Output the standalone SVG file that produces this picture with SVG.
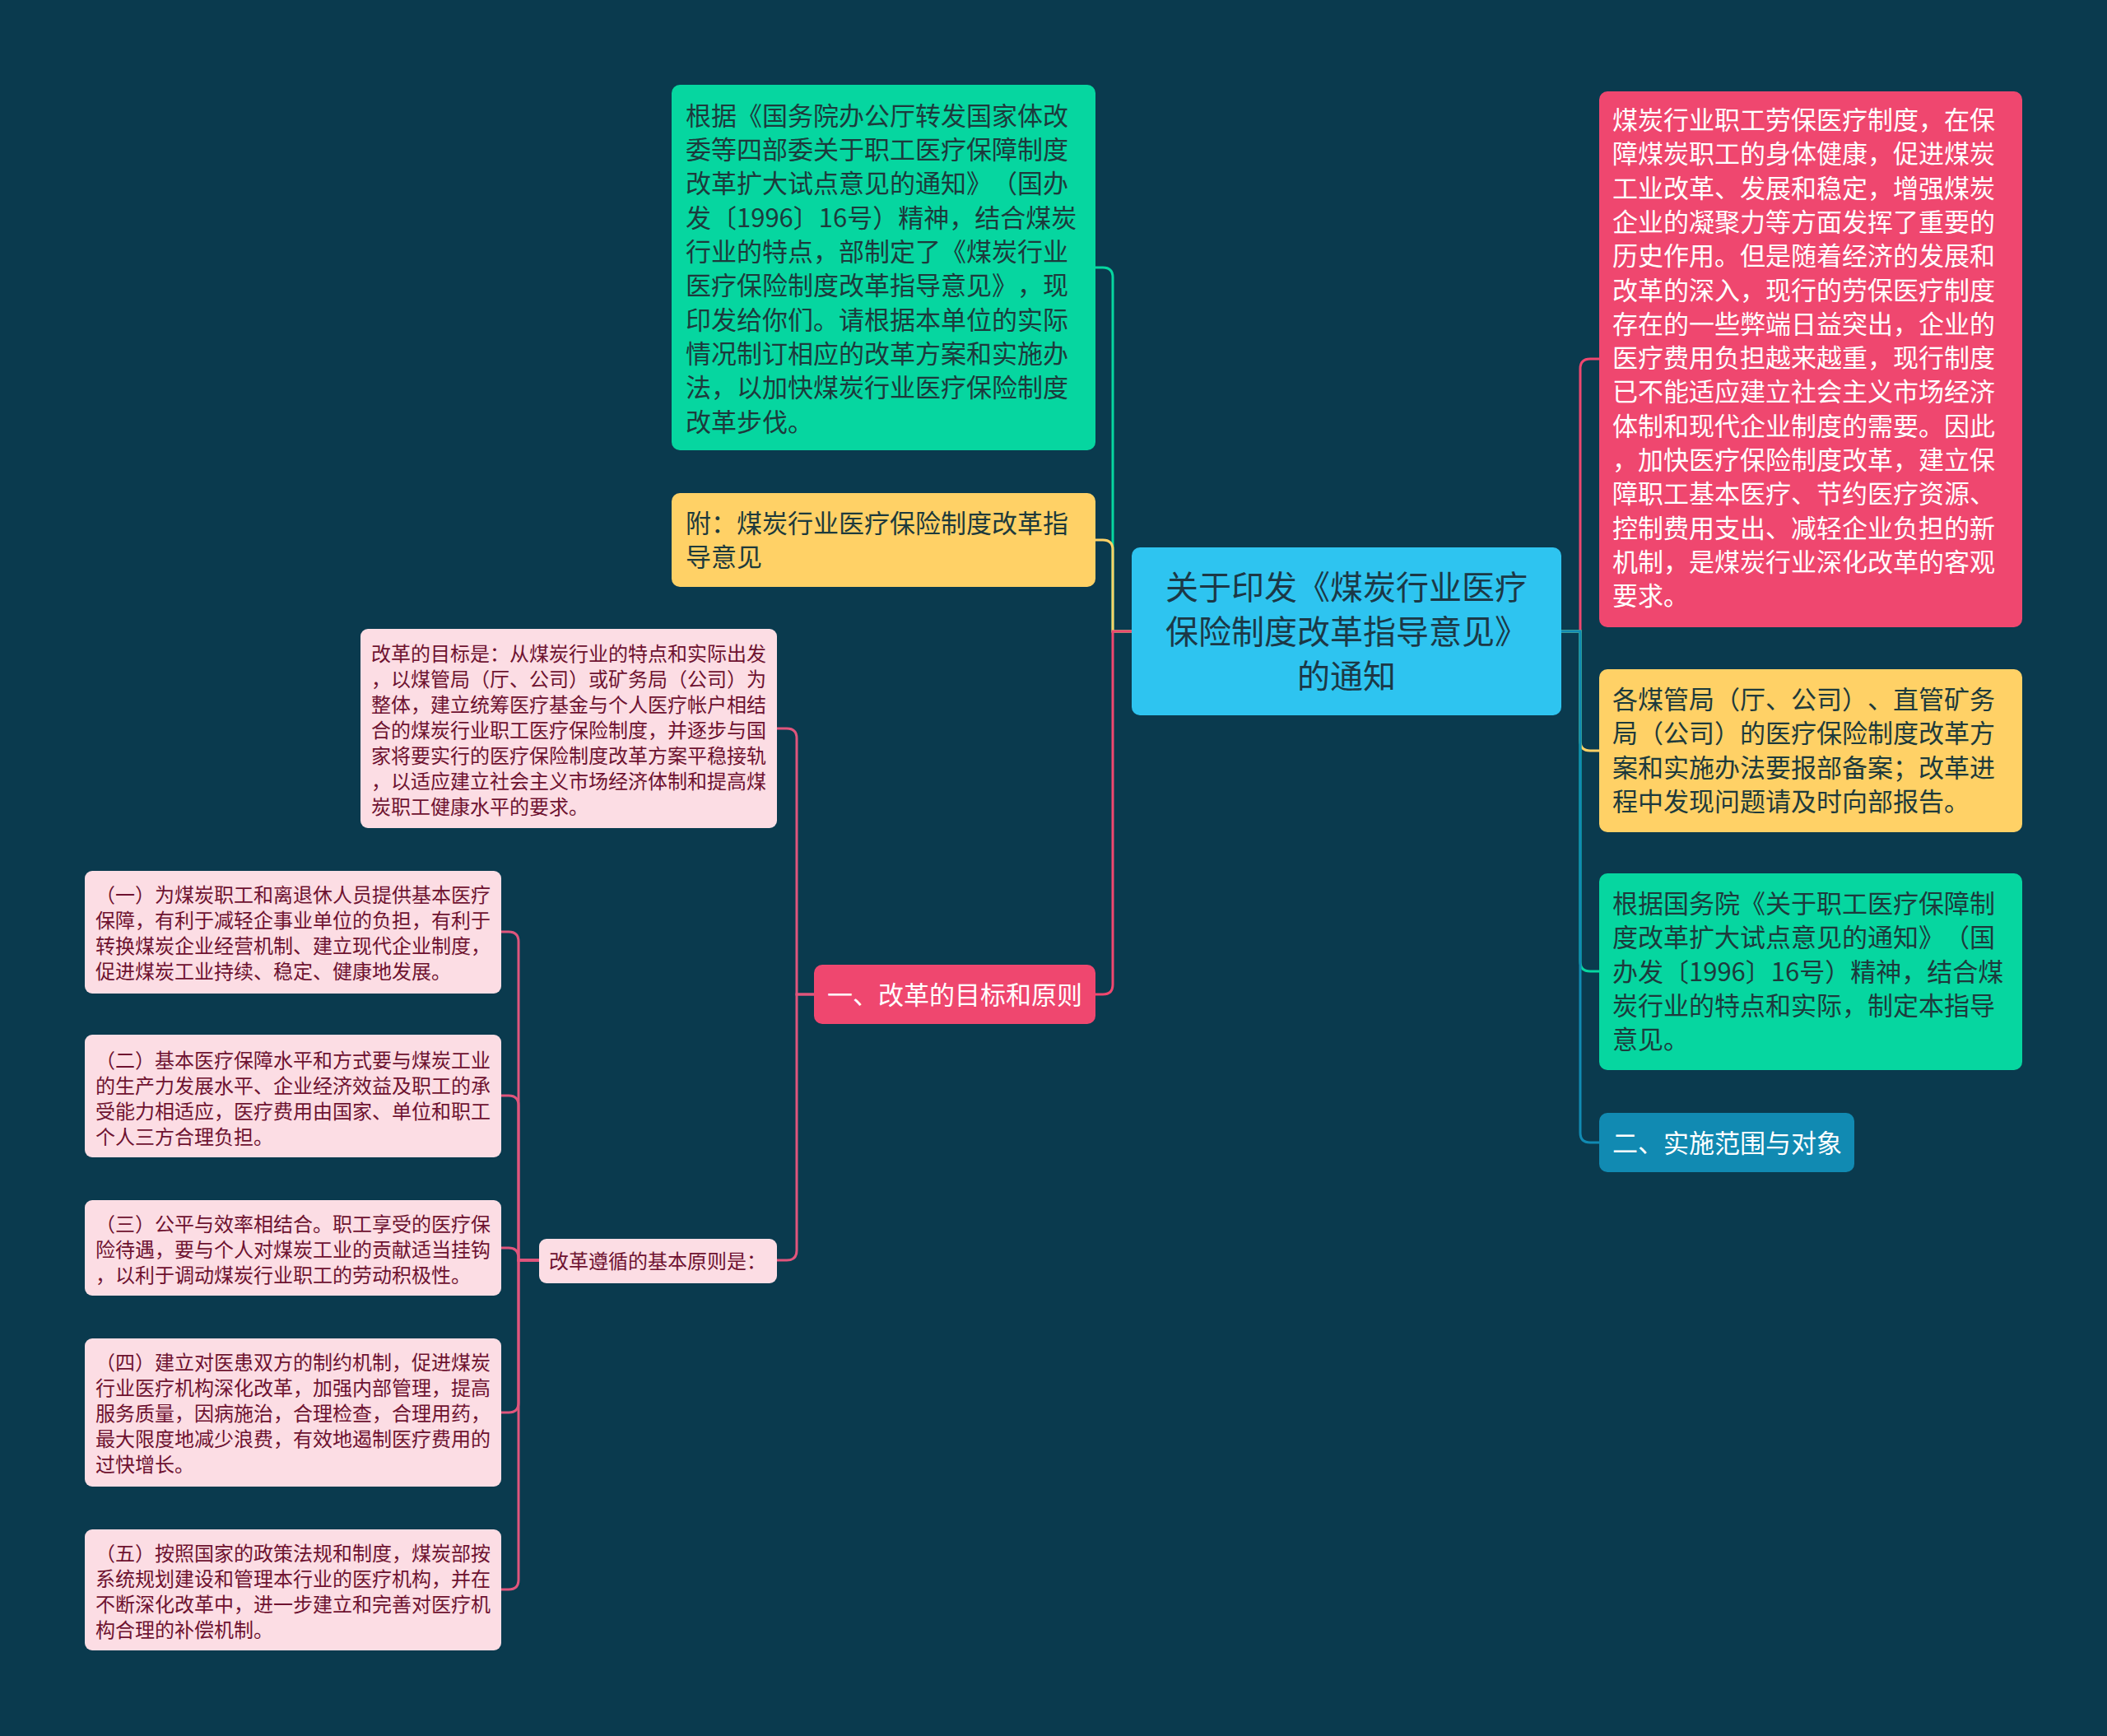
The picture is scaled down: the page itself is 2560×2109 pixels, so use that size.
<svg xmlns="http://www.w3.org/2000/svg" width="2560" height="2109" viewBox="0 0 2560 2109">
<style>
text{font-family:"Noto Sans CJK SC","Noto Sans",sans-serif;text-spacing-trim:space-all;}
.c{fill:none;stroke-width:3;}
.t31{font-size:31px;}
.t24{font-size:24px;}
.dk{fill:#1d3a3c;}
.wh{fill:#ffffff;}
.pk{fill:#6e1230;}
.pinkbox{fill:#fcdde4;}
</style>
<rect x="0" y="0" width="2560" height="2109" fill="#0a3a4e"/>
<g id="connectors">
<path class="c" stroke="#06d6a0" d="M1375,767 H1352 V337 Q1352,325 1340,325 H1331"/>
<path class="c" stroke="#ffd166" d="M1375,767 H1352 V668 Q1352,656 1340,656 H1331"/>
<path class="c" stroke="#ef476f" d="M1375,767 H1352 V1196 Q1352,1208 1340,1208 H1331"/>
<path class="c" stroke="#ef476f" d="M1897,767 H1920 V448 Q1920,436 1932,436 H1943"/>
<path class="c" stroke="#ffd166" d="M1897,767 H1920 V900 Q1920,912 1932,912 H1943"/>
<path class="c" stroke="#06d6a0" d="M1897,767 H1920 V1168 Q1920,1180 1932,1180 H1943"/>
<path class="c" stroke="#118ab2" d="M1897,767 H1920 V1376 Q1920,1388 1932,1388 H1943"/>
<path class="c" stroke="#e0557c" d="M989,1208 H968 V897 Q968,885 956,885 H944"/>
<path class="c" stroke="#e0557c" d="M989,1208 H968 V1519 Q968,1531 956,1531 H944"/>
<path class="c" stroke="#e0557c" d="M655,1531 H630 V1144 Q630,1132 618,1132 H609"/>
<path class="c" stroke="#e0557c" d="M655,1531 H630 V1343 Q630,1331 618,1331 H609"/>
<path class="c" stroke="#e0557c" d="M655,1531 H630 V1528 Q630,1516 618,1516 H609"/>
<path class="c" stroke="#e0557c" d="M655,1531 H630 V1704 Q630,1716 618,1716 H609"/>
<path class="c" stroke="#e0557c" d="M655,1531 H630 V1919 Q630,1931 618,1931 H609"/>
</g>
<g id="center">
<rect x="1375" y="665" width="522" height="204" rx="10" fill="#2ec4f0"/>
<text x="1636" y="728" font-size="40" text-anchor="middle" fill="#1c3846">关于印发《煤炭行业医疗</text>
<text x="1636" y="782" font-size="40" text-anchor="middle" fill="#1c3846">保险制度改革指导意见》</text>
<text x="1636" y="836" font-size="40" text-anchor="middle" fill="#1c3846">的通知</text>
</g>
<g id="node-notice">
<rect x="816" y="103" width="515" height="444" rx="10" fill="#06d6a0"/>
<text class="t31 dk" x="833" y="152">根据《国务院办公厅转发国家体改</text>
<text class="t31 dk" x="833" y="193">委等四部委关于职工医疗保障制度</text>
<text class="t31 dk" x="833" y="234">改革扩大试点意见的通知》（国办</text>
<text class="t31 dk" x="833" y="276">发〔1996〕16号）精神，结合煤炭</text>
<text class="t31 dk" x="833" y="317">行业的特点，部制定了《煤炭行业</text>
<text class="t31 dk" x="833" y="358">医疗保险制度改革指导意见》，现</text>
<text class="t31 dk" x="833" y="400">印发给你们。请根据本单位的实际</text>
<text class="t31 dk" x="833" y="441">情况制订相应的改革方案和实施办</text>
<text class="t31 dk" x="833" y="482">法，以加快煤炭行业医疗保险制度</text>
<text class="t31 dk" x="833" y="524">改革步伐。</text>
</g>
<g id="node-attach">
<rect x="816" y="599" width="515" height="114" rx="10" fill="#ffd166"/>
<text class="t31 dk" x="833" y="647">附：煤炭行业医疗保险制度改革指</text>
<text class="t31 dk" x="833" y="688">导意见</text>
</g>
<g id="node-part1">
<rect x="989" y="1172" width="342" height="72" rx="10" fill="#ef476f"/>
<text class="t31 wh" x="1160" y="1220" text-anchor="middle">一、改革的目标和原则</text>
</g>
<g id="node-goal">
<rect class="pinkbox" x="438" y="764" width="506" height="242" rx="9"/>
<text class="t24 pk" x="451" y="803">改革的目标是：从煤炭行业的特点和实际出发</text>
<text class="t24 pk" x="451" y="834">，以煤管局（厅、公司）或矿务局（公司）为</text>
<text class="t24 pk" x="451" y="865">整体，建立统筹医疗基金与个人医疗帐户相结</text>
<text class="t24 pk" x="451" y="896">合的煤炭行业职工医疗保险制度，并逐步与国</text>
<text class="t24 pk" x="451" y="927">家将要实行的医疗保险制度改革方案平稳接轨</text>
<text class="t24 pk" x="451" y="958">，以适应建立社会主义市场经济体制和提高煤</text>
<text class="t24 pk" x="451" y="989">炭职工健康水平的要求。</text>
</g>
<g id="node-principles">
<rect class="pinkbox" x="655" y="1505" width="289" height="54" rx="9"/>
<text class="t24 pk" x="667" y="1541">改革遵循的基本原则是：</text>
</g>
<g id="node-p1">
<rect class="pinkbox" x="103" y="1058" width="506" height="149" rx="9"/>
<text class="t24 pk" x="116" y="1096">（一）为煤炭职工和离退休人员提供基本医疗</text>
<text class="t24 pk" x="116" y="1127">保障，有利于减轻企事业单位的负担，有利于</text>
<text class="t24 pk" x="116" y="1158">转换煤炭企业经营机制、建立现代企业制度，</text>
<text class="t24 pk" x="116" y="1189">促进煤炭工业持续、稳定、健康地发展。</text>
</g>
<g id="node-p2">
<rect class="pinkbox" x="103" y="1257" width="506" height="149" rx="9"/>
<text class="t24 pk" x="116" y="1297">（二）基本医疗保障水平和方式要与煤炭工业</text>
<text class="t24 pk" x="116" y="1328">的生产力发展水平、企业经济效益及职工的承</text>
<text class="t24 pk" x="116" y="1359">受能力相适应，医疗费用由国家、单位和职工</text>
<text class="t24 pk" x="116" y="1390">个人三方合理负担。</text>
</g>
<g id="node-p3">
<rect class="pinkbox" x="103" y="1458" width="506" height="116" rx="9"/>
<text class="t24 pk" x="116" y="1496">（三）公平与效率相结合。职工享受的医疗保</text>
<text class="t24 pk" x="116" y="1527">险待遇，要与个人对煤炭工业的贡献适当挂钩</text>
<text class="t24 pk" x="116" y="1558">，以利于调动煤炭行业职工的劳动积极性。</text>
</g>
<g id="node-p4">
<rect class="pinkbox" x="103" y="1626" width="506" height="180" rx="9"/>
<text class="t24 pk" x="116" y="1664">（四）建立对医患双方的制约机制，促进煤炭</text>
<text class="t24 pk" x="116" y="1695">行业医疗机构深化改革，加强内部管理，提高</text>
<text class="t24 pk" x="116" y="1726">服务质量，因病施治，合理检查，合理用药，</text>
<text class="t24 pk" x="116" y="1757">最大限度地减少浪费，有效地遏制医疗费用的</text>
<text class="t24 pk" x="116" y="1788">过快增长。</text>
</g>
<g id="node-p5">
<rect class="pinkbox" x="103" y="1858" width="506" height="147" rx="9"/>
<text class="t24 pk" x="116" y="1896">（五）按照国家的政策法规和制度，煤炭部按</text>
<text class="t24 pk" x="116" y="1927">系统规划建设和管理本行业的医疗机构，并在</text>
<text class="t24 pk" x="116" y="1958">不断深化改革中，进一步建立和完善对医疗机</text>
<text class="t24 pk" x="116" y="1989">构合理的补偿机制。</text>
</g>
<g id="node-background">
<rect x="1943" y="111" width="514" height="651" rx="10" fill="#ef476f"/>
<text class="t31 wh" x="1959" y="157">煤炭行业职工劳保医疗制度，在保</text>
<text class="t31 wh" x="1959" y="198">障煤炭职工的身体健康，促进煤炭</text>
<text class="t31 wh" x="1959" y="240">工业改革、发展和稳定，增强煤炭</text>
<text class="t31 wh" x="1959" y="281">企业的凝聚力等方面发挥了重要的</text>
<text class="t31 wh" x="1959" y="322">历史作用。但是随着经济的发展和</text>
<text class="t31 wh" x="1959" y="364">改革的深入，现行的劳保医疗制度</text>
<text class="t31 wh" x="1959" y="405">存在的一些弊端日益突出，企业的</text>
<text class="t31 wh" x="1959" y="446">医疗费用负担越来越重，现行制度</text>
<text class="t31 wh" x="1959" y="487">已不能适应建立社会主义市场经济</text>
<text class="t31 wh" x="1959" y="529">体制和现代企业制度的需要。因此</text>
<text class="t31 wh" x="1959" y="570">，加快医疗保险制度改革，建立保</text>
<text class="t31 wh" x="1959" y="611">障职工基本医疗、节约医疗资源、</text>
<text class="t31 wh" x="1959" y="653">控制费用支出、减轻企业负担的新</text>
<text class="t31 wh" x="1959" y="694">机制，是煤炭行业深化改革的客观</text>
<text class="t31 wh" x="1959" y="735">要求。</text>
</g>
<g id="node-report">
<rect x="1943" y="813" width="514" height="198" rx="10" fill="#ffd166"/>
<text class="t31 dk" x="1959" y="861">各煤管局（厅、公司）、直管矿务</text>
<text class="t31 dk" x="1959" y="902">局（公司）的医疗保险制度改革方</text>
<text class="t31 dk" x="1959" y="944">案和实施办法要报部备案；改革进</text>
<text class="t31 dk" x="1959" y="985">程中发现问题请及时向部报告。</text>
</g>
<g id="node-basis">
<rect x="1943" y="1061" width="514" height="239" rx="10" fill="#06d6a0"/>
<text class="t31 dk" x="1959" y="1109">根据国务院《关于职工医疗保障制</text>
<text class="t31 dk" x="1959" y="1150">度改革扩大试点意见的通知》（国</text>
<text class="t31 dk" x="1959" y="1192">办发〔1996〕16号）精神，结合煤</text>
<text class="t31 dk" x="1959" y="1233">炭行业的特点和实际，制定本指导</text>
<text class="t31 dk" x="1959" y="1274">意见。</text>
</g>
<g id="node-part2">
<rect x="1943" y="1352" width="310" height="72" rx="10" fill="#118ab2"/>
<text class="t31 wh" x="1959" y="1400">二、实施范围与对象</text>
</g>
</svg>
